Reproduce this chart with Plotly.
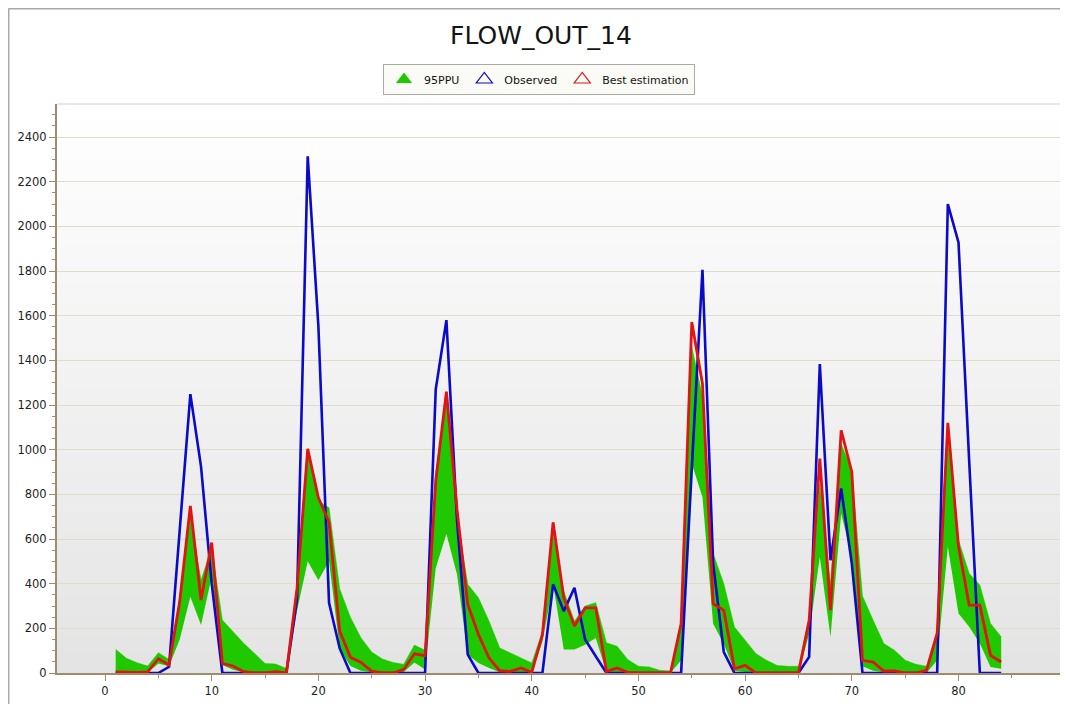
import plotly.graph_objects as go

# ---------------- data ----------------
x_vals = list(range(1, 85))

ppu_upper = [106, 66, 46, 31, 91, 61, 330, 700, 416, 560,
             237, 185, 133, 88, 43, 40, 20, 390, 1000, 770,
             740, 376, 250, 157, 94, 63, 47, 39, 125, 102,
             900, 1222, 697, 397, 337, 232, 112, 90, 67, 45,
             187, 622, 367, 232, 300, 315, 135, 120, 60, 30,
             27, 12, 9, 221, 1460, 1240, 535, 400, 206, 146,
             87, 57, 34, 30, 30, 250, 848, 400, 1027, 908,
             345, 236, 132, 102, 57, 39, 30, 192, 1045, 596,
             446, 394, 222, 162]

ppu_lower = [0, 0, 0, 2, 43, 30, 150, 342, 215, 431,
             36, 15, 3, 0, 0, 0, 0, 280, 500, 415,
             500, 110, 31, 10, 3, 0, 0, 5, 47, 16,
             470, 622, 440, 82, 45, 22, 3, 2, 5, 0,
             140, 397, 105, 105, 127, 157, 5, 5, 0, 0,
             0, 0, 0, 57, 937, 788, 221, 131, 10, 5,
             0, 0, 0, 0, 0, 176, 520, 161, 714, 520,
             30, 10, 3, 0, 0, 0, 0, 57, 566, 266,
             207, 132, 27, 19]

observed = [0, 0, 0, 0, 0, 28, 650, 1249, 924, 400,
            0, 0, 0, 0, 0, 0, 0, 330, 2314, 1553,
            314, 110, 0, 0, 0, 0, 0, 0, 0, 0,
            1270, 1580, 680, 82, 0, 0, 0, 0, 0, 0,
            0, 397, 277, 382, 150, 75, 0, 0, 0, 0,
            0, 0, 0, 0, 915, 1806, 490, 94, 0, 0,
            0, 0, 0, 0, 0, 72, 1383, 505, 826, 490,
            0, 0, 0, 0, 0, 0, 0, 0, 2100, 1928,
            950, 0, 0, 0]

best_est = [5, 3, 3, 5, 64, 36, 320, 748, 327, 584,
            43, 31, 6, 0, 0, 6, 0, 380, 1004, 785,
            675, 187, 71, 47, 8, 0, 0, 16, 86, 78,
            860, 1260, 730, 307, 172, 67, 10, 7, 22, 3,
            172, 675, 337, 210, 292, 292, 7, 22, 3, 0,
            0, 0, 0, 221, 1572, 1296, 310, 281, 19, 34,
            0, 0, 0, 0, 0, 236, 960, 281, 1087, 900,
            57, 49, 9, 9, 0, 0, 12, 177, 1120, 566,
            304, 304, 79, 49]

series_names = ["95PPU", "Observed", "Best estimation"]
chart_title = "FLOW_OUT_14"
y_ticks = list(range(0, 2401, 200))
x_ticks = list(range(0, 81, 10))

# ---------------- style ----------------
GREEN = "rgb(32,200,0)"
BLUE = "rgb(10,10,200)"
RED = "rgb(225,20,20)"
AXIS = "rgb(160,140,108)"
GRID = "rgb(225,220,200)"
FONT = "DejaVu Sans"

# page body adds an 8px offset, so the figure is laid out in shifted coordinates
OFF = 8
W, H = 1068 - OFF, 704 - OFF
L, R_EDGE, T, B_EDGE = 57 - OFF, 1061.7 - OFF, 104 - OFF, 672.7 - OFF

def pxx(p):
    return (p - L) / (R_EDGE - L)

def pxy(p):
    return (B_EDGE - p) / (B_EDGE - T)

fig = go.Figure()

# 95PPU band
fig.add_trace(go.Scatter(x=x_vals, y=ppu_lower, mode="lines",
                         line=dict(width=0, color=GREEN), showlegend=False,
                         hoverinfo="skip"))
fig.add_trace(go.Scatter(x=x_vals, y=ppu_upper, mode="lines", fill="tonexty",
                         fillcolor=GREEN, line=dict(width=0.5, color=GREEN),
                         showlegend=False, name=series_names[0]))
# observed
fig.add_trace(go.Scatter(x=x_vals, y=observed, mode="lines",
                         line=dict(width=2.6, color=BLUE), showlegend=False,
                         name=series_names[1]))
# best estimation
fig.add_trace(go.Scatter(x=x_vals, y=best_est, mode="lines",
                         line=dict(width=2.8, color=RED), showlegend=False,
                         name=series_names[2]))

# legend entries with triangle symbols
fig.add_trace(go.Scatter(x=[None], y=[None], mode="markers", name=series_names[0],
                         marker=dict(symbol="triangle-up", size=14, color=GREEN,
                                     line=dict(width=0))))
fig.add_trace(go.Scatter(x=[None], y=[None], mode="markers", name=series_names[1],
                         marker=dict(symbol="triangle-up-open", size=14, color=BLUE,
                                     line=dict(width=1.2, color=BLUE))))
fig.add_trace(go.Scatter(x=[None], y=[None], mode="markers", name=series_names[2],
                         marker=dict(symbol="triangle-up-open", size=14, color=RED,
                                     line=dict(width=1.2, color=RED))))

# gradient background of plot area
shapes = []
n = 60
for i in range(n):
    f = i / (n - 1)
    v = int(round(255 - (255 - 228) * f))
    shapes.append(dict(type="rect", xref="paper", yref="paper",
                       x0=0, x1=1, y0=1 - (i + 1) / n, y1=1 - i / n + 0.001,
                       fillcolor=f"rgb({v},{v},{v})", line=dict(width=0),
                       layer="below"))
# plot area border (top light, right shadow)
shapes.append(dict(type="line", xref="paper", yref="paper", x0=0, x1=1, y0=1, y1=1,
                   line=dict(color="rgb(210,208,200)", width=1), layer="above"))
shapes.append(dict(type="line", xref="paper", yref="paper", x0=1, x1=1, y0=0, y1=1,
                   line=dict(color="rgb(200,200,200)", width=1), layer="above"))
shapes.append(dict(type="line", xref="paper", yref="paper",
                   x0=pxx(R_EDGE + 2), x1=pxx(R_EDGE + 2), y0=pxy(B_EDGE + 2), y1=pxy(T + 3),
                   line=dict(color="rgb(170,170,170)", width=2), layer="above"))
# outer frame (left and top)
shapes.append(dict(type="line", xref="paper", yref="paper",
                   x0=pxx(0.5), x1=pxx(0.5), y0=pxy(0.5), y1=pxy(H + 5),
                   line=dict(color="rgb(170,168,168)", width=2)))
shapes.append(dict(type="line", xref="paper", yref="paper",
                   x0=pxx(0.5), x1=pxx(W + 5), y0=pxy(0.5), y1=pxy(0.5),
                   line=dict(color="rgb(170,168,168)", width=2)))

fig.update_layout(
    width=W, height=H,
    margin=dict(l=L, r=W - R_EDGE, t=T, b=H - B_EDGE),
    paper_bgcolor="white",
    plot_bgcolor="white",
    shapes=shapes,
    title=dict(text=chart_title, x=(541 - OFF) / W, xanchor="center", xref="container",
               y=1 - (35 - OFF) / H, yanchor="middle", yref="container",
               font=dict(family=FONT, size=25, color="rgb(20,20,20)")),
    legend=dict(orientation="h", x=(539 - OFF) / W, xanchor="center", xref="container",
                y=1 - (64 - OFF) / H, yanchor="top", yref="container",
                traceorder="normal",
                bgcolor="rgb(250,250,246)", bordercolor="rgb(170,170,160)",
                borderwidth=1, font=dict(family=FONT, size=11, color="rgb(20,20,20)"),
                itemwidth=30, tracegroupgap=0),
    font=dict(family=FONT, size=11, color="rgb(40,40,40)"),
    showlegend=True,
)

fig.update_xaxes(range=[-4.5, 89.7], tickvals=x_ticks, showgrid=False, zeroline=False,
                 showline=True, linecolor=AXIS, linewidth=2, ticks="outside",
                 ticklen=6, tickcolor=AXIS, tickwidth=1,
                 minor=dict(dtick=5, tick0=0, ticks="outside", ticklen=3, tickcolor=AXIS,
                            showgrid=False),
                 tickfont=dict(family=FONT, size=11.5, color="rgb(30,30,30)"))
fig.update_yaxes(range=[0, 2548], tickvals=y_ticks, showgrid=True, gridcolor=GRID,
                 gridwidth=1, zeroline=False, showline=True, linecolor=AXIS, linewidth=2,
                 ticks="outside", ticklen=6, tickcolor=AXIS, tickwidth=1,
                 minor=dict(dtick=50, tick0=0, ticks="outside", ticklen=3, tickcolor=AXIS,
                            showgrid=False),
                 tickfont=dict(family=FONT, size=11.5, color="rgb(30,30,30)"))

fig.write_html("out.html")
